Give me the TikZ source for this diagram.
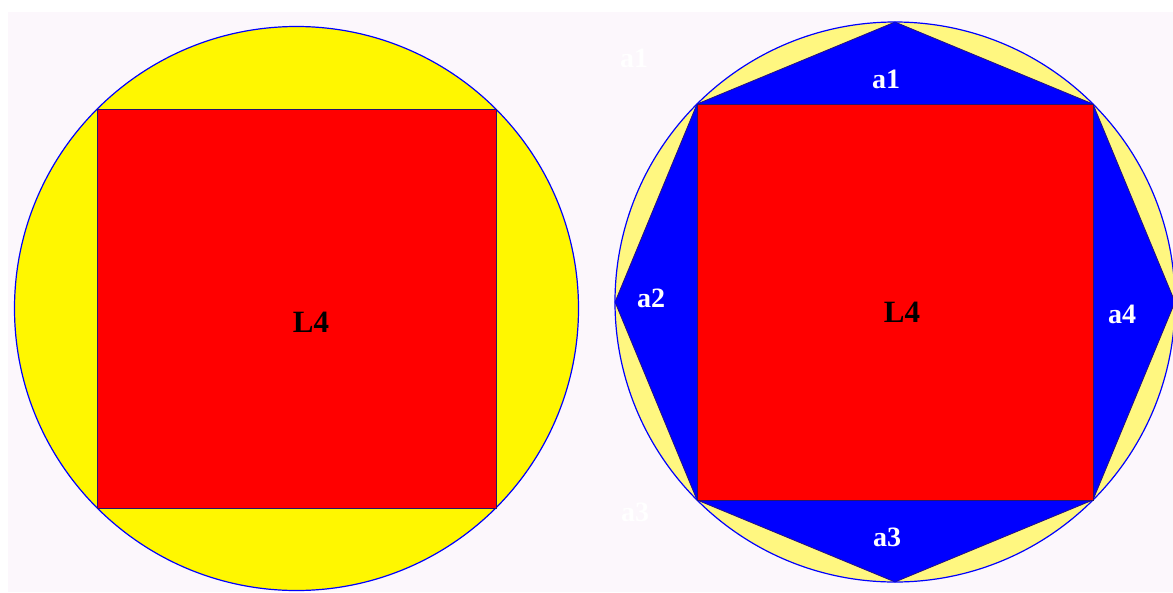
\documentclass[tikz,border=0pt]{standalone}
\usepackage{fontspec}
\setmainfont{Liberation Serif}
\definecolor{bgpink}{RGB}{252,247,252}
\definecolor{yel}{RGB}{255,247,0}
\definecolor{paleyel}{RGB}{255,247,128}
\definecolor{sqred}{RGB}{255,0,0}
\definecolor{octblue}{RGB}{0,0,255}
\definecolor{edge}{RGB}{40,20,110}
\tikzset{
  circ/.style={draw=octblue, line width=1.2pt},
  sq/.style={fill=sqred, draw=edge, line width=0.9pt},
  oct/.style={fill=octblue, draw=edge, line width=0.7pt},
  wlab/.style={text=white, inner sep=0pt, font=\bfseries\fontsize{28}{28}\selectfont},
  llab/.style={text=black, inner sep=0pt, font=\bfseries\fontsize{31}{31}\selectfont}
}
\begin{document}
\begin{tikzpicture}[x=1pt,y=-1pt]
\useasboundingbox (0,0) rectangle (1173,592);
\fill[white] (0,0) rectangle (1173,592);
\fill[bgpink] (8,12) rectangle (1173,592);
% left figure
\coordinate (LC) at (296.5,308.5);
\coordinate (LTL) at (97,109);
\coordinate (LBR) at (496,508);
\fill[yel] (LC) circle[radius=282pt];
\draw[circ] (LC) circle[radius=282pt];
\draw[sq] (LTL) rectangle (LBR);
\node[llab] (L4a) at (311,322) {L4};
% right figure
\coordinate (RC) at (895,302);
\coordinate (TL) at (697,104);
\coordinate (TR) at (1093,104);
\coordinate (BR) at (1093,500);
\coordinate (BL) at (697,500);
\coordinate (T) at (895,22);
\coordinate (R) at (1175,302);
\coordinate (B) at (895,582);
\coordinate (L) at (615,302);
\fill[paleyel] (RC) circle[radius=280pt];
\draw[oct] (TL) -- (T) -- (TR) -- (R) -- (BR) -- (B) -- (BL) -- (L) -- cycle;
\draw[circ] (RC) circle[radius=280pt];
\draw[sq] (TL) rectangle (BR);
\node[llab] (L4b) at (902,312) {L4};
\node[wlab] (a1) at (886,79) {a1};
\node[wlab] (a2) at (651,298) {a2};
\node[wlab] (a3) at (887,537) {a3};
\node[wlab] (a4) at (1122,314) {a4};
% faint labels on the background
\node[wlab] (g1) at (634,58) {a1};
\node[wlab] (g3) at (635,512) {a3};
\end{tikzpicture}
\end{document}
